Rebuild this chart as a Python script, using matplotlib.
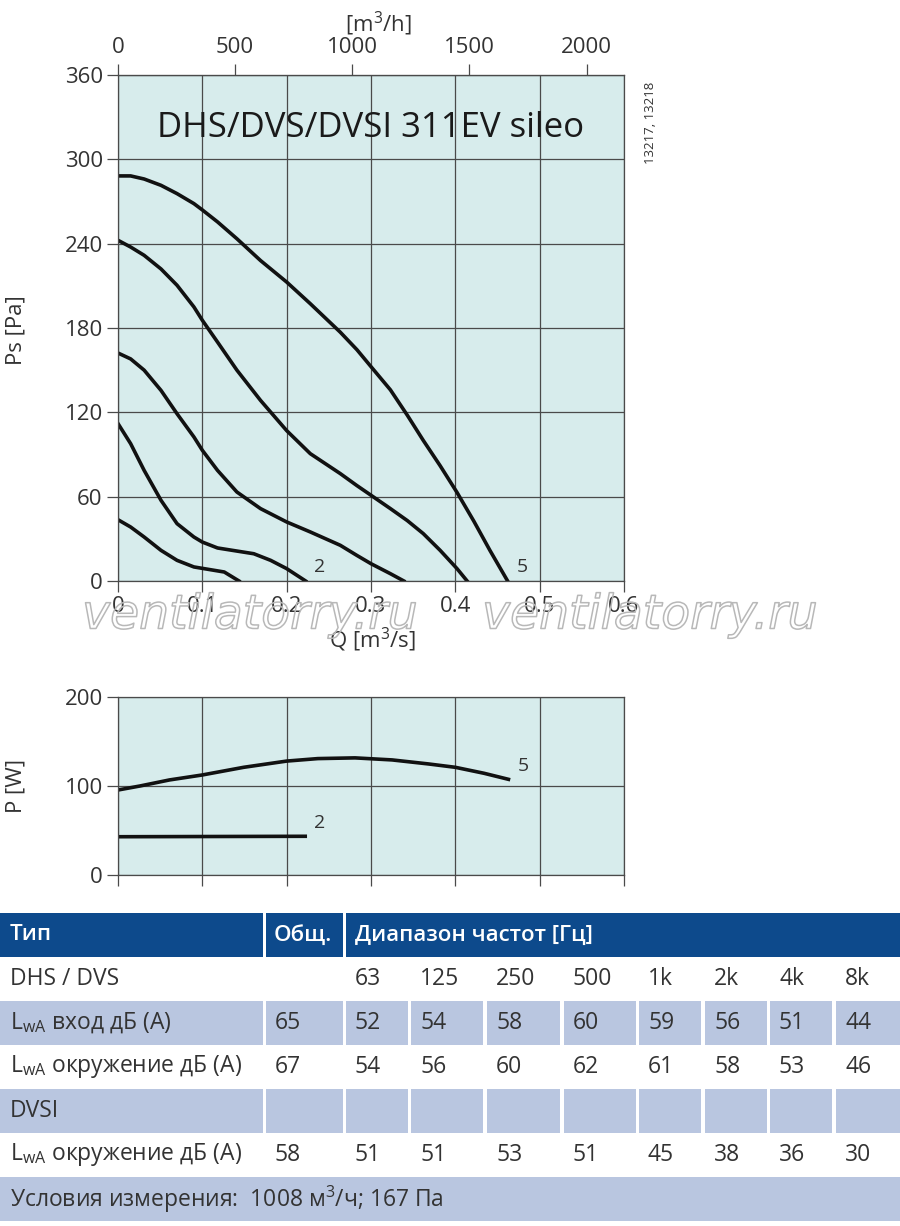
import matplotlib
matplotlib.use("Agg")
import matplotlib.pyplot as plt
import matplotlib.patheffects as pe
from matplotlib.patches import Rectangle

plt.rcParams['font.family'] = ['Open Sans', 'DejaVu Sans']
plt.rcParams['mathtext.fontset'] = 'custom'
plt.rcParams['mathtext.rm'] = 'Open Sans'

# --- fan curves, Ps [Pa] vs Q [m3/s] ---
q1 = [0, 0.015, 0.031, 0.051, 0.070, 0.090, 0.110, 0.126, 0.1435]
ps1 = [43.6, 38.4, 31.3, 21.8, 14.7, 10, 8, 6.4, 0]
q2 = [0, 0.015, 0.031, 0.051, 0.070, 0.090, 0.1, 0.118, 0.141, 0.161, 0.181, 0.2, 0.2225]
ps2 = [112, 97.7, 78.7, 57.4, 40.8, 31.3, 27.7, 23.5, 21.3, 19.4, 14.7, 8.8, 0]
q3 = [0, 0.015, 0.031, 0.051, 0.070, 0.090, 0.1, 0.118, 0.141, 0.169, 0.2, 0.228,
      0.2636, 0.283, 0.3, 0.323, 0.339]
ps3 = [162.2, 158, 150, 135.6, 119, 102.5, 93, 78.7, 63.3, 51.5, 42, 34.9,
       25.4, 18.3, 12.3, 5.2, 0]
q4 = [0, 0.015, 0.031, 0.051, 0.070, 0.090, 0.1, 0.118, 0.141, 0.169, 0.2, 0.228,
      0.2636, 0.283, 0.3, 0.323, 0.343, 0.362, 0.382, 0.402, 0.414]
ps4 = [242.4, 237.6, 231.7, 222, 210.4, 195, 185.5, 170, 150, 128.5, 107, 90.6,
       76.4, 68, 61, 51.5, 43, 33.7, 21.8, 8.8, 0]
q5 = [0, 0.015, 0.031, 0.051, 0.070, 0.090, 0.1, 0.118, 0.141, 0.169, 0.2, 0.228,
      0.2636, 0.2834, 0.3, 0.323, 0.343, 0.362, 0.382, 0.402, 0.422, 0.441, 0.462]
ps5 = [288.2, 288.2, 286, 281.5, 275.6, 268.5, 264, 255.5, 243.5, 228, 212.7, 197.3,
       177, 164.5, 152.5, 136, 118, 100, 82, 63, 42.5, 21.8, 0]

# --- power curves, P [W] ---
qp2 = [0, 0.222]
p2 = [43, 43.5]
qp5 = [0, 0.026, 0.061, 0.1, 0.149, 0.2, 0.237, 0.281, 0.325, 0.368, 0.4, 0.434, 0.463]
p5 = [95.5, 100, 106.8, 112.4, 121, 128, 130.8, 131.6, 129.3, 124.8, 121, 114.3, 107.5]

# --- sound table ---
freq_labels = ['63', '125', '250', '500', '1k', '2k', '4k', '8k']
lwa_inlet = [65, 52, 54, 58, 60, 59, 56, 51, 44]
lwa_surr = [67, 54, 56, 60, 62, 61, 58, 53, 46]
dvsi_surr = [58, 51, 51, 53, 51, 45, 38, 36, 30]

W, H = 900, 1226
BG = '#d7ecec'
GRID = '#4a4a4a'
TXT = '#333333'
LW = 2.6

fig = plt.figure(figsize=(9, 12.26), dpi=100)


def fx(x):
    return x / W


def fy(y):
    return 1 - y / H


def style_axes(ax):
    ax.set_facecolor(BG)
    ax.grid(True, color=GRID, lw=0.9)
    ax.set_axisbelow(True)
    for s in ax.spines.values():
        s.set_color(GRID)
        s.set_linewidth(0.9)
    ax.tick_params(direction='out', length=8, width=0.9, color=GRID,
                   labelsize=16, labelcolor=TXT, pad=3)


# top chart
ax = fig.add_axes([fx(118), fy(581), 506 / W, 506 / H])
style_axes(ax)
for q, ps in [(q1, ps1), (q2, ps2), (q3, ps3), (q4, ps4), (q5, ps5)]:
    ax.plot(q, ps, color='#111111', lw=LW, solid_joinstyle='round')
ax.set_xlim(0, 0.6)
ax.set_ylim(0, 360)
ax.set_xticks([0, 0.1, 0.2, 0.3, 0.4, 0.5, 0.6])
ax.set_xticklabels(['0', '0.1', '0.2', '0.3', '0.4', '0.5', '0.6'])
ax.set_yticks(range(0, 361, 60))
ax.text(0.232, 10, '2', fontsize=14, color=TXT, va='center')
ax.text(0.473, 10, '5', fontsize=14, color=TXT, va='center')
ax.text(0.3, 322, 'DHS/DVS/DVSI 311EV sileo', fontsize=25, color='#1a1a1a',
        ha='center', va='center')

top = ax.secondary_xaxis('top', functions=(lambda v: v * 3600, lambda v: v / 3600))
top.set_xticks([0, 500, 1000, 1500, 2000])
top.tick_params(direction='out', length=8, width=0.9, color=GRID,
                labelsize=16, labelcolor=TXT, pad=4)
top.spines['top'].set_color(GRID)

fig.text(fx(378), fy(24), '[m$^3$/h]', fontsize=16, color=TXT, ha='center', va='center')
fig.text(fx(372), fy(640), 'Q [m$^3$/s]', fontsize=16, color=TXT, ha='center', va='center')
fig.text(fx(16), fy(330), 'Ps [Pa]', fontsize=16, color=TXT, ha='center', va='center',
         rotation=90)
fig.text(fx(650), fy(123), '13217, 13218', fontsize=9.5, color=TXT, ha='center',
         va='center', rotation=90)

# power chart
axp = fig.add_axes([fx(118), fy(875), 506 / W, 178 / H])
style_axes(axp)
axp.plot(qp5, p5, color='#111111', lw=LW, solid_joinstyle='round')
axp.plot(qp2, p2, color='#111111', lw=LW)
axp.set_xlim(0, 0.6)
axp.set_ylim(0, 200)
axp.set_xticks([0, 0.1, 0.2, 0.3, 0.4, 0.5, 0.6])
axp.set_xticklabels([])
axp.set_yticks([0, 100, 200])
axp.text(0.232, 58, '2', fontsize=14, color=TXT, va='center')
axp.text(0.474, 122, '5', fontsize=14, color=TXT, va='center')
fig.text(fx(16), fy(786), 'P [W]', fontsize=16, color=TXT, ha='center', va='center',
         rotation=90)

# watermark (outline only)
for xc in [250, 650]:
    fig.text(fx(xc), fy(616), 'ventilatorry.ru', fontsize=34, style='italic',
             color='none', ha='center', va='center',
             family=['DejaVu Sans'],
             path_effects=[pe.Stroke(linewidth=1.1, foreground='#b8b8b8')])

# table
axt = fig.add_axes([0, fy(1224), 1, 311 / H])
axt.set_xlim(0, W)
axt.set_ylim(1224, 913)
axt.axis('off')

HEAD = '#0d4a8c'
ROWC = '#b9c6e0'
cols = [(0, 263), (266, 343), (346, 408), (411, 483), (487, 560), (564, 636),
        (639, 701), (705, 767), (770, 832), (836, 900)]
row_h = 44
y0 = 913

# header
for x_a, x_b in [(0, 263), (266, 343), (346, 900)]:
    axt.add_patch(Rectangle((x_a, y0), x_b - x_a, row_h, color=HEAD, lw=0))
hdr_kw = dict(color='white', fontsize=16, va='center', fontweight='semibold')
axt.text(10, y0 + row_h / 2, 'Тип', **hdr_kw)
axt.text(274, y0 + row_h / 2, 'Общ.', **hdr_kw)
axt.text(355, y0 + row_h / 2, 'Диапазон частот [Гц]', **hdr_kw)

lwa = r'L$_{\mathregular{wA}}$'
rows = [
    ('DHS / DVS', [''] + freq_labels, False),
    (lwa + ' вход дБ (A)', [str(v) for v in lwa_inlet], True),
    (lwa + ' окружение дБ (A)', [str(v) for v in lwa_surr], False),
    ('DVSI', [''] * 9, True),
    (lwa + ' окружение дБ (A)', [str(v) for v in dvsi_surr], False),
]
for i, (label, vals, shaded) in enumerate(rows):
    yt = y0 + row_h * (i + 1)
    if shaded:
        for x_a, x_b in cols:
            axt.add_patch(Rectangle((x_a, yt), x_b - x_a, row_h, color=ROWC, lw=0))
    axt.text(10, yt + row_h / 2, label, fontsize=16.5, color=TXT, va='center')
    for (x_a, x_b), v in zip(cols[1:], vals):
        axt.text(x_a + 9, yt + row_h / 2, v, fontsize=16.5, color=TXT, va='center')

yt = y0 + row_h * 6
axt.add_patch(Rectangle((0, yt), W, row_h, color=ROWC, lw=0))
axt.text(10, yt + row_h / 2, 'Условия измерения:  1008 м$^3$/ч; 167 Па',
         fontsize=16.5, color=TXT, va='center')

fig.savefig('out.png', dpi=100)
